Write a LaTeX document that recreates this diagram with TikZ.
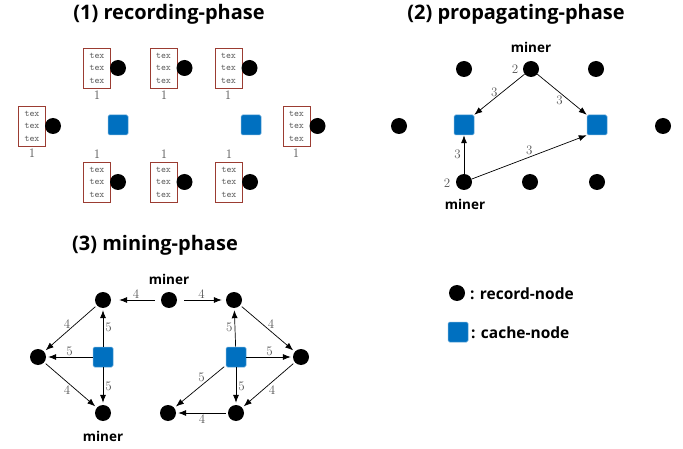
\documentclass[tikz,border=0pt]{standalone}
\usepackage{fontspec}
\newfontfamily\hfont{Open Sans}
\usetikzlibrary{arrows.meta}
\definecolor{cacheblue}{RGB}{0,112,192}
\definecolor{boxred}{RGB}{155,60,50}
\definecolor{lblgray}{RGB}{85,85,85}
\begin{document}
\begin{tikzpicture}[x=1pt,y=-1pt,
  rec/.style={circle,fill=black,minimum size=16pt,inner sep=0pt},
  cache/.style={rectangle,rounded corners=1.5pt,fill=cacheblue,draw=cacheblue!60!white,line width=0.5pt,minimum size=20pt,inner sep=0pt},
  txbox/.style={draw=boxred,line width=0.9pt,fill=white,minimum width=27pt,minimum height=40pt,inner sep=0pt,align=center,font=\fontsize{9.5}{12.5}\selectfont\ttfamily,text=lblgray},
  num/.style={font=\fontsize{13}{13}\selectfont,text=lblgray,inner sep=0pt},
  title/.style={font=\hfont\bfseries\fontsize{20}{20}\selectfont,inner sep=0pt},
  minerlbl/.style={font=\hfont\bfseries\fontsize{13.5}{13.5}\selectfont,inner sep=0pt},
  legend/.style={font=\hfont\bfseries\fontsize{15.5}{15.5}\selectfont,inner sep=0pt,anchor=west},
  arr/.style={-{Latex[length=8pt,width=6pt]},line width=0.7pt}]
\useasboundingbox (0,0) rectangle (683,449);

% ---------------- (1) recording-phase ----------------
\node[title] (t1) at (169,14) {(1) recording-phase};
\foreach \n/\bx/\by in {a/97/68, b/163.5/68, c/228.5/68, d/32/126, e/296.5/126, f/97/182, g/163.5/182, h/229/182}{
  \node[txbox] (box\n) at (\bx,\by) {tex\\tex\\tex};
  \node[rec] (rr\n) at ([xshift=21pt]box\n.center) {};
}
\node[num] (oa) at (97,95) {1};
\node[num] (ob) at (164,95) {1};
\node[num] (oc) at (228,95) {1};
\node[num] (od) at (32,153) {1};
\node[num] (oe) at (296,153) {1};
\node[num] (of) at (97,154) {1};
\node[num] (og) at (164,154) {1};
\node[num] (oh) at (229,154) {1};
\node[cache] (ca) at (118,125) {};
\node[cache] (cb) at (251,125) {};

% ---------------- (2) propagating-phase ----------------
\node[title] (t2) at (516,14) {(2) propagating-phase};
\node[rec] (p1) at (464,69) {};
\node[rec] (pm1) at (531,69) {};
\node[rec] (p3) at (596,69) {};
\node[rec] (p4) at (399,126) {};
\node[cache] (pc1) at (464,125) {};
\node[cache] (pc2) at (597,125) {};
\node[rec] (p5) at (663,126) {};
\node[rec] (pm2) at (464,182) {};
\node[rec] (p7) at (530,182) {};
\node[rec] (p8) at (597,182) {};
\node[minerlbl] (pl1) at (531,47) {miner};
\node[minerlbl] (pl2) at (465,204) {miner};
\node[num] (pn1) at (515,69) {2};
\node[num] (pn2) at (447,183) {2};
\draw[arr] (pm1) -- (pc1.north east) node[num,pos=0.6,above=1pt] (pa1) {3};
\draw[arr] (pm1) -- (pc2.north west) node[num,pos=0.45,below=3pt] (pa2) {3};
\draw[arr] (pm2) -- (pc1) node[num,midway,left=3pt] (pa3) {3};
\draw[arr] (pm2) -- (pc2.south west) node[num,pos=0.5,above=2pt] (pa4) {3};

% ---------------- (3) mining-phase ----------------
\node[title] (t3) at (155,245) {(3) mining-phase};
\node[rec] (mm) at (169,300) {};
\node[rec] (ml1) at (103,300) {};
\node[rec] (mr1) at (234,300) {};
\node[rec] (ml2) at (38,357) {};
\node[cache] (mlc) at (103,357) {};
\node[rec] (mml) at (103,413) {};
\node[cache] (mrc) at (236,357) {};
\node[rec] (mr2) at (301,357) {};
\node[rec] (mr3) at (236,413) {};
\node[rec] (mr4) at (168,413) {};
\node[minerlbl] (ml) at (169,279) {miner};
\node[minerlbl] (mlb) at (103,436) {miner};

\draw[arr,shorten <=6pt,shorten >=8pt] (mm) -- (ml1) node[num,midway,above=1pt] (q1) {4};
\draw[arr,shorten <=7pt,shorten >=4pt] (mm) -- (mr1) node[num,midway,above=1pt] (q2) {4};
\draw[arr,shorten <=2pt,shorten >=2pt] (ml1) -- (ml2) node[num,midway,above left=0pt] (q3) {4};
\draw[arr,shorten <=2pt,shorten >=2pt] (ml2) -- (mml) node[num,midway,below left=0pt] (q4) {4};
\draw[arr,shorten >=2pt] (mlc) -- (ml1) node[num,midway,right=2pt] (q5) {5};
\draw[arr,shorten >=2pt] (mlc) -- (ml2) node[num,midway,above=1pt] (q6) {5};
\draw[arr,shorten >=2pt] (mlc) -- (mml) node[num,midway,right=2pt] (q7) {5};
\draw[arr,shorten <=2pt,shorten >=2pt] (mr1) -- (mr2) node[num,midway,above right=0pt] (q8) {4};
\draw[arr,shorten >=2pt] (mrc) -- (mr1) node[num,midway,left=2pt] (q9) {5};
\draw[arr,shorten >=2pt] (mrc) -- (mr2) node[num,midway,above=1pt] (q10) {5};
\draw[arr,shorten >=2pt] (mrc) -- (mr3) node[num,midway,right=2pt] (q11) {5};
\draw[arr,shorten <=2pt,shorten >=2pt] (mrc) -- (mr4) node[num,pos=0.4,above left=0pt] (q12) {5};
\draw[arr,shorten <=2pt,shorten >=2pt] (mr2) -- (mr3) node[num,midway,below right=0pt] (q13) {4};
\draw[arr,shorten <=2pt,shorten >=2pt] (mr3) -- (mr4) node[num,midway,below=1pt] (q14) {4};

% ---------------- legend ----------------
\node[rec] (lg1) at (457,293) {};
\node[legend] (lt1) at (470,294) {: record-node};
\node[cache] (lg2) at (458,332) {};
\node[legend] (lt2) at (471,333) {: cache-node};
\end{tikzpicture}
\end{document}
